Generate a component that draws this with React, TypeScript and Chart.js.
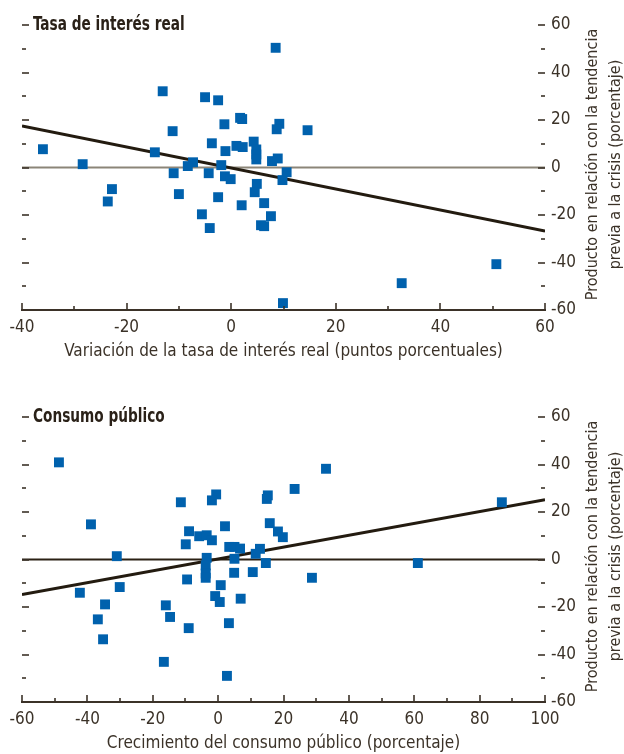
import React, { useEffect, useRef } from 'react';
import { Chart, registerables } from 'chart.js';

Chart.register(...registerables);

const FONT = '"Liberation Sans Narrow", "DejaVu Sans Condensed", "Arial Narrow", sans-serif';
const TEXT = '#3b3228';
const BLUE = '#0061ad';

// Panel 1: real interest rate change vs output relative to pre-crisis trend
const rateX = [-13.1, -5.0, -2.5, 1.7, 2.1, -1.3, 9.2, 8.7, -11.2, -3.7, 4.3, 1.0, 2.2, -1.1, 4.8, 4.8, 4.8, 7.8, 8.9, -14.6, -7.3, -8.3, -1.9, -11.0, -4.3, -1.2, -0.1, 10.6, 9.8, 4.9, 4.5, -10.0, -2.5, 2.0, 6.3, 7.6, -5.6, 5.7, 6.3, -4.1, 8.5, -36.0, -28.4, 14.6, -22.8, -23.6, 9.9, 32.6, 50.7];
const rateY = [32.1, 29.6, 28.3, 20.9, 20.4, 18.2, 18.4, 16.1, 15.3, 10.2, 10.9, 9.1, 8.6, 6.9, 7.6, 5.5, 3.4, 2.7, 3.8, 6.4, 2.2, 0.6, 1.0, -2.4, -2.4, -3.7, -4.9, -2.0, -5.3, -6.9, -10.4, -11.2, -12.5, -15.9, -15.0, -20.5, -19.7, -24.3, -24.7, -25.5, 50.4, 7.7, 1.4, 15.7, -9.1, -14.3, -57.1, -48.7, -40.7];
const rateFitX = [-40, 60];
const rateFitY = [17.5, -26.8];

// Panel 2: public consumption growth vs output relative to pre-crisis trend
const govX = [-48.7, -38.9, -31.0, -11.4, -0.6, -1.9, 23.4, 15.2, 14.9, 2.1, 15.8, 18.3, 19.8, -8.9, -5.8, -3.5, -1.9, -9.9, 3.4, 5.0, 6.7, 12.8, 11.5, -3.5, 5.0, 14.6, -3.8, 33.0, 86.8, 61.1, -42.3, -30.1, -34.6, -36.8, -35.2, -16.0, -14.7, -9.0, -16.6, -9.5, -3.8, -3.8, 0.8, -0.9, 0.5, 3.3, 2.7, 6.9, 4.9, 10.6, 28.7];
const govY = [40.9, 14.8, 1.4, 24.1, 27.4, 24.9, 29.7, 27.0, 25.5, 14.0, 15.3, 11.8, 9.4, 11.9, 9.8, 10.2, 8.1, 6.4, 5.3, 5.3, 4.6, 4.5, 2.4, 0.7, 0.3, -1.5, -2.5, 38.2, 24.1, -1.5, -14.0, -11.6, -18.9, -25.2, -33.6, -19.3, -24.2, -28.9, -43.1, -8.4, -5.9, -7.7, -10.8, -15.4, -17.9, -26.8, -49.0, -16.5, -5.6, -5.3, -7.7];
const govFitX = [-60, 100];
const govFitY = [-14.7, 25.2];

const yRange = [-60, 60];
const rateRange = [-40, 60];
const govRange = [-60, 100];

const yTitle1 = 'Producto en relación con la tendencia';
const yTitle2 = 'previa a la crisis (porcentaje)';

type PanelProps = {
  title: string;
  xTitle: string;
  xs: number[];
  ys: number[];
  fitX: number[];
  fitY: number[];
  xRange: number[];
  zeroColor: string;
  height: number;
  padBottom: number;
};

const decoPlugin = {
  id: 'deco',
  afterDraw(chart: any, _args: any, opts: any) {
    const { ctx, chartArea } = chart;
    const { left, right, top, bottom } = chartArea;
    const x = chart.scales.x;
    const y = chart.scales.y;
    ctx.save();
    ctx.strokeStyle = TEXT;
    ctx.lineWidth = 1.6;
    for (let v = yRange[0]; v <= yRange[1]; v += 10) {
      const py = Math.round(y.getPixelForValue(v));
      const len = v % 20 === 0 ? 7 : 4;
      ctx.beginPath();
      ctx.moveTo(left, py);
      ctx.lineTo(left + len, py);
      ctx.stroke();
      ctx.beginPath();
      ctx.moveTo(right - len, py);
      ctx.lineTo(right, py);
      ctx.stroke();
    }
    for (let v = x.min; v <= x.max; v += 10) {
      const px = Math.round(x.getPixelForValue(v));
      const len = v % 20 === 0 ? 7 : 4;
      ctx.beginPath();
      ctx.moveTo(px, bottom);
      ctx.lineTo(px, bottom - len);
      ctx.stroke();
    }
    // panel title (condensed horizontally to mimic a narrow face)
    ctx.save();
    ctx.fillStyle = '#2a2118';
    ctx.font = `bold 19px ${FONT}`;
    ctx.textBaseline = 'middle';
    ctx.textAlign = 'left';
    ctx.translate(left + 11, y.getPixelForValue(60));
    ctx.scale(0.8, 1.05);
    ctx.fillText(opts.title, 0, 0);
    ctx.restore();
    // right axis title, rotated
    ctx.fillStyle = TEXT;
    ctx.font = `16px ${FONT}`;
    ctx.textAlign = 'center';
    ctx.textBaseline = 'middle';
    ctx.translate(593, (top + bottom) / 2 - 3);
    ctx.rotate(-Math.PI / 2);
    ctx.fillText(yTitle1, 0, 0);
    ctx.fillText(yTitle2, 0, 23);
    ctx.restore();
  },
};

function Panel(p: PanelProps) {
  const ref = useRef<HTMLCanvasElement | null>(null);
  useEffect(() => {
    if (!ref.current) return;
    const points = p.xs.map((v, i) => ({ x: v, y: p.ys[i] }));
    const fit = p.fitX.map((v, i) => ({ x: v, y: p.fitY[i] }));
    const zero = p.xRange.map((v) => ({ x: v, y: 0 }));
    const chart = new Chart(ref.current, {
      type: 'scatter',
      data: {
        datasets: [
          {
            data: points,
            pointStyle: 'rect',
            pointRadius: 7,
            pointBorderWidth: 0,
            backgroundColor: BLUE,
            borderColor: BLUE,
            order: 0,
          },
          {
            type: 'line',
            data: fit,
            borderColor: '#231b10',
            borderWidth: 3,
            pointRadius: 0,
            order: 1,
          } as any,
          {
            type: 'line',
            data: zero,
            borderColor: p.zeroColor,
            borderWidth: 2,
            pointRadius: 0,
            order: 2,
          } as any,
        ],
      },
      options: {
        responsive: false,
        animation: false,
        layout: { padding: { top: 25, left: 22, right: 0, bottom: p.padBottom } },
        plugins: {
          legend: { display: false },
          tooltip: { enabled: false },
          deco: { title: p.title },
        } as any,
        scales: {
          x: {
            type: 'linear',
            position: 'bottom',
            min: p.xRange[0],
            max: p.xRange[1],
            afterFit: (s: any) => {
              s.height = 52;
            },
            grid: { display: false, drawTicks: false },
            border: { display: true, color: TEXT, width: 2 },
            ticks: {
              stepSize: 20,
              padding: 7,
              maxRotation: 0,
              autoSkip: false,
              color: TEXT,
              font: { family: FONT, size: 17 },
              callback: (v: any) => String(v),
            },
            title: {
              display: true,
              text: p.xTitle,
              color: TEXT,
              padding: 0,
              font: { family: FONT, size: 17 },
            },
          },
          y: {
            type: 'linear',
            position: 'right',
            min: yRange[0],
            max: yRange[1],
            afterFit: (s: any) => {
              s.width = 79;
            },
            grid: { display: false, drawTicks: false },
            border: { display: false },
            ticks: {
              stepSize: 20,
              padding: 6,
              color: TEXT,
              font: { family: FONT, size: 17 },
              callback: (v: any) => String(v),
            },
          },
        },
      } as any,
      plugins: [decoPlugin],
    });
    return () => chart.destroy();
  }, []);
  return <canvas ref={ref} width={624} height={p.height} style={{ display: 'block', width: 624, height: p.height }} />;
}

export default function App() {
  useEffect(() => {
    document.body.style.margin = '0';
  }, []);
  return (
    <div style={{ width: 624, height: 754, background: '#fff' }}>
      <Panel
        title="Tasa de interés real"
        xTitle="Variación de la tasa de interés real (puntos porcentuales)"
        xs={rateX}
        ys={rateY}
        fitX={rateFitX}
        fitY={rateFitY}
        xRange={rateRange}
        zeroColor="#8b8578"
        height={392}
        padBottom={30}
      />
      <Panel
        title="Consumo público"
        xTitle="Crecimiento del consumo público (porcentaje)"
        xs={govX}
        ys={govY}
        fitX={govFitX}
        fitY={govFitY}
        xRange={govRange}
        zeroColor="#2b2114"
        height={362}
        padBottom={0}
      />
    </div>
  );
}
